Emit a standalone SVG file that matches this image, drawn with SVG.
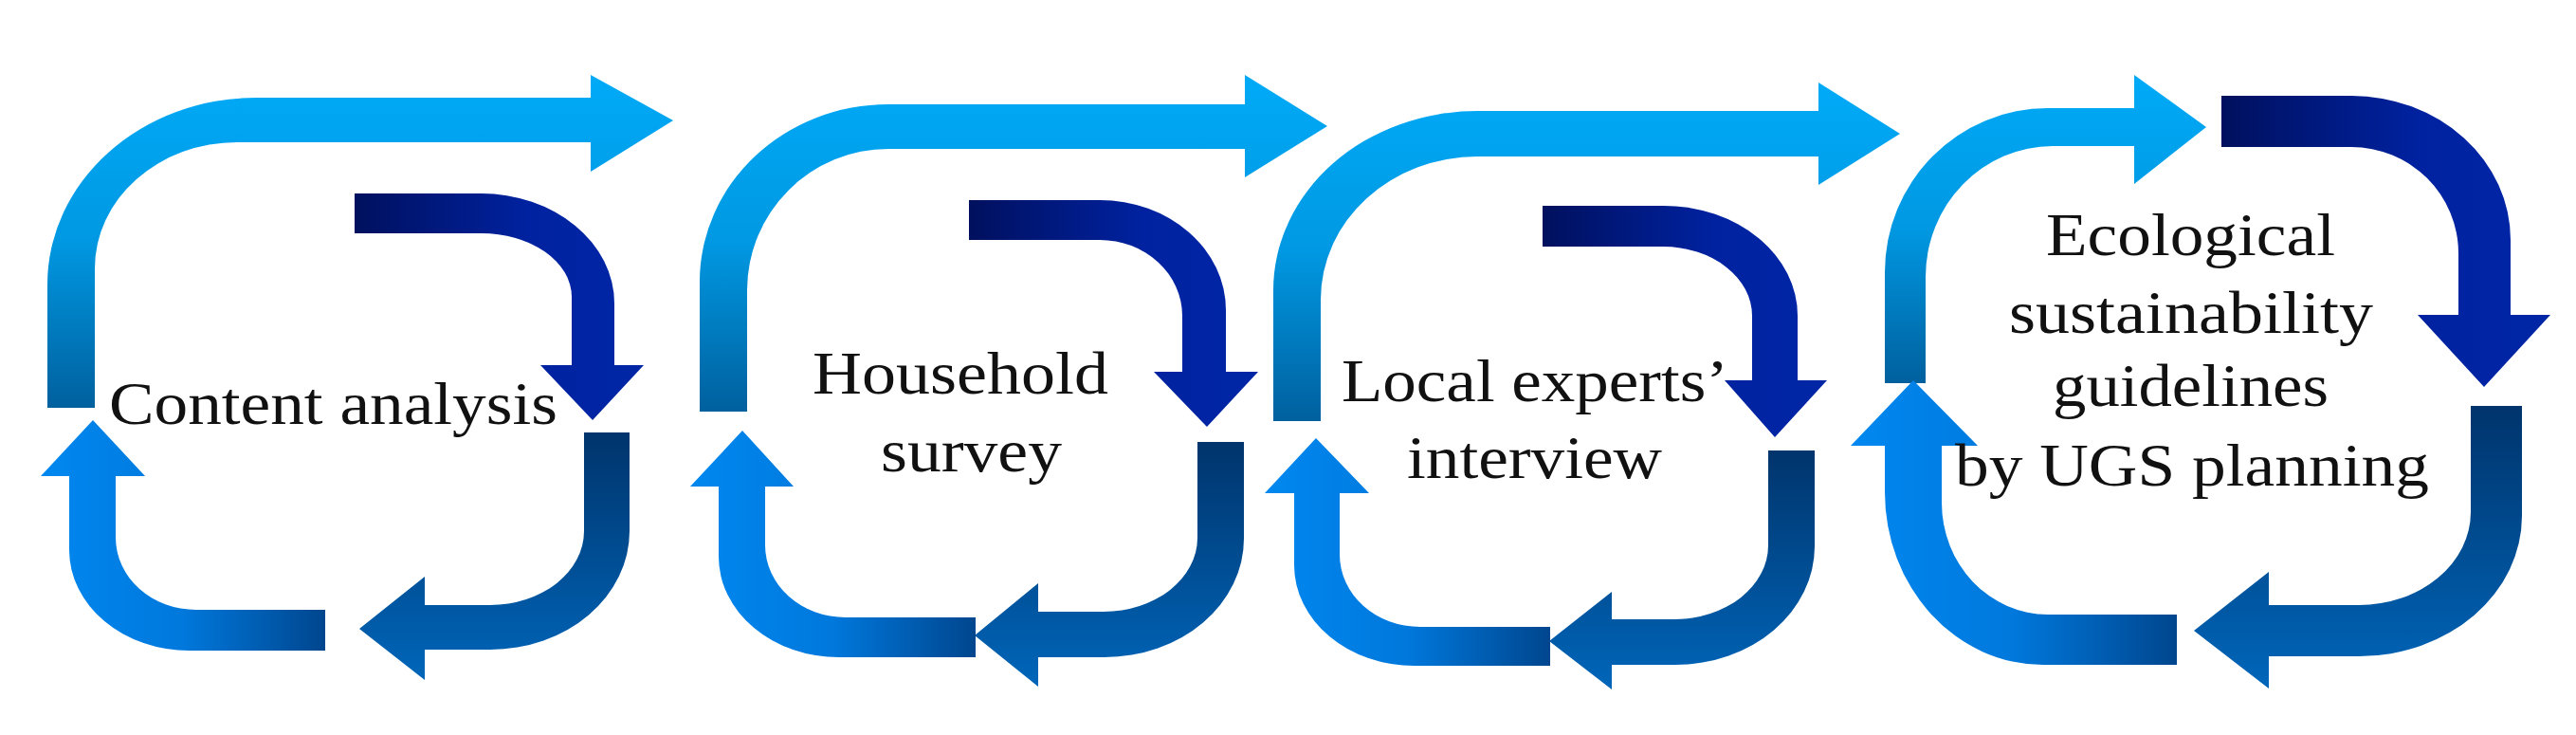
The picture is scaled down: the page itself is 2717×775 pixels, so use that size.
<svg xmlns="http://www.w3.org/2000/svg" width="2717" height="775" viewBox="0 0 2717 775">
<defs>
<linearGradient id="gTop" x1="0" y1="0" x2="0" y2="1">
<stop offset="0" stop-color="#00aaf7"/><stop offset="0.5" stop-color="#0098e2"/><stop offset="1" stop-color="#00609e"/>
</linearGradient>
<linearGradient id="gNavy" x1="0" y1="0" x2="1" y2="0">
<stop offset="0" stop-color="#00105e"/><stop offset="0.6" stop-color="#0022a0"/><stop offset="1" stop-color="#0026a6"/>
</linearGradient>
<linearGradient id="gBR" x1="0" y1="0" x2="0" y2="1">
<stop offset="0" stop-color="#00346c"/><stop offset="1" stop-color="#0066ba"/>
</linearGradient>
<linearGradient id="gBL" x1="0" y1="0" x2="1" y2="0">
<stop offset="0" stop-color="#0088f0"/><stop offset="0.5" stop-color="#0078dc"/><stop offset="1" stop-color="#00468e"/>
</linearGradient>
</defs>
<style>
.top{fill:url(#gTop)}
.navy{fill:url(#gNavy)}
.br{fill:url(#gBR)}
.bl{fill:url(#gBL)}
.lbl{font-family:"Liberation Serif","Times New Roman",serif;font-size:63px;fill:#111}
</style>
<g id="panel-1">
<path class="top" d="M50,430 L50,300 A220,197 0 0 1 270,103 L623,103 L623,79 L710,127 L623,181 L623,150 L250,150 A150,133 0 0 0 100,283 L100,430 Z"/>
<path class="navy" d="M374,204 L507,204 A141,116 0 0 1 648,320 L648,385 L679,385 L625,443 L570,385 L603,385 L603,313 A96,67 0 0 0 507,246 L374,246 Z"/>
<path class="br" d="M616,456 L664,456 L664,560 A147,125 0 0 1 517,685 L448,685 L448,717 L379,663 L448,608 L448,638 L517,638 A99,78 0 0 0 616,560 Z"/>
<path class="bl" d="M343,643 L207,643 A85,76 0 0 1 122,567 L122,502 L153,502 L98,443 L43,502 L73,502 L73,580 A127,106 0 0 0 200,686 L343,686 Z"/>
<text class="lbl" x="115" y="447" textLength="473" lengthAdjust="spacingAndGlyphs">Content analysis</text>
</g>
<g id="panel-2">
<path class="top" d="M738,434 L738,297 A199,187 0 0 1 937,110 L1313,110 L1313,79 L1400,133 L1313,187 L1313,157 L937,157 A149,149 0 0 0 788,306 L788,434 Z"/>
<path class="navy" d="M1022,211 L1160,211 A133,116 0 0 1 1293,327 L1293,392 L1327,392 L1273,450 L1217,392 L1247,392 L1247,333 A87,80 0 0 0 1160,253 L1022,253 Z"/>
<path class="br" d="M1263,466 L1312,466 L1312,568 A147,125 0 0 1 1165,693 L1095,693 L1095,724 L1028,670 L1095,615 L1095,645 L1164,645 A99,78 0 0 0 1263,567 Z"/>
<path class="bl" d="M1029,651 L892,651 A85,76 0 0 1 807,575 L807,513 L837,513 L783,454 L728,513 L758,513 L758,587 A127,106 0 0 0 885,693 L1029,693 Z"/>
<text class="lbl" x="857" y="415" textLength="312" lengthAdjust="spacingAndGlyphs">Household</text>
<text class="lbl" x="929" y="497" textLength="191" lengthAdjust="spacingAndGlyphs">survey</text>
</g>
<g id="panel-3">
<path class="top" d="M1343,444 L1343,306 A215,189 0 0 1 1558,117 L1918,117 L1918,87 L2004,141 L1918,195 L1918,165 L1558,165 A165,151 0 0 0 1393,316 L1393,444 Z"/>
<path class="navy" d="M1627,217 L1755,217 A141,116 0 0 1 1896,333 L1896,401 L1927,401 L1872,461 L1819,401 L1848,401 L1848,333 A94,73 0 0 0 1754,260 L1627,260 Z"/>
<path class="br" d="M1865,475 L1914,475 L1914,576 A147,125 0 0 1 1767,701 L1700,701 L1700,727 L1634,676 L1700,624 L1700,653 L1766,653 A99,78 0 0 0 1865,575 Z"/>
<path class="bl" d="M1635,661 L1498,661 A85,76 0 0 1 1413,585 L1413,520 L1444,520 L1388,462 L1334,520 L1365,520 L1365,596 A127,106 0 0 0 1492,702 L1635,702 Z"/>
<text class="lbl" x="1415" y="423" textLength="408" lengthAdjust="spacingAndGlyphs">Local experts’</text>
<text class="lbl" x="1484" y="504" textLength="269" lengthAdjust="spacingAndGlyphs">interview</text>
</g>
<g id="panel-4">
<path class="top" d="M1988,404 L1988,287 A172,173 0 0 1 2160,114 L2251,114 L2251,79 L2327,134 L2251,194 L2251,154 L2165,154 A134,138 0 0 0 2031,292 L2031,404 Z"/>
<path class="navy" d="M2343,101 L2480,101 A168,152 0 0 1 2648,253 L2648,332 L2690,332 L2620,408 L2550,332 L2593,332 L2593,267 A113,112 0 0 0 2480,155 L2343,155 Z"/>
<path class="br" d="M2606,428 L2660,428 L2660,544 A172,148 0 0 1 2488,692 L2393,692 L2393,726 L2314,665 L2393,603 L2393,638 L2488,638 A118,98 0 0 0 2606,540 Z"/>
<path class="bl" d="M2296,648 L2160,648 A112,118 0 0 1 2048,530 L2048,470 L2086,470 L2018,401 L1952,470 L1988,470 L1988,519 A167,182 0 0 0 2155,701 L2296,701 Z"/>
<text class="lbl" x="2158" y="269" textLength="305" lengthAdjust="spacingAndGlyphs">Ecological</text>
<text class="lbl" x="2119" y="351" textLength="384" lengthAdjust="spacingAndGlyphs">sustainability</text>
<text class="lbl" x="2165" y="428" textLength="291" lengthAdjust="spacingAndGlyphs">guidelines</text>
<text class="lbl" x="2062" y="512" textLength="500" lengthAdjust="spacingAndGlyphs">by UGS planning</text>
</g>
</svg>
